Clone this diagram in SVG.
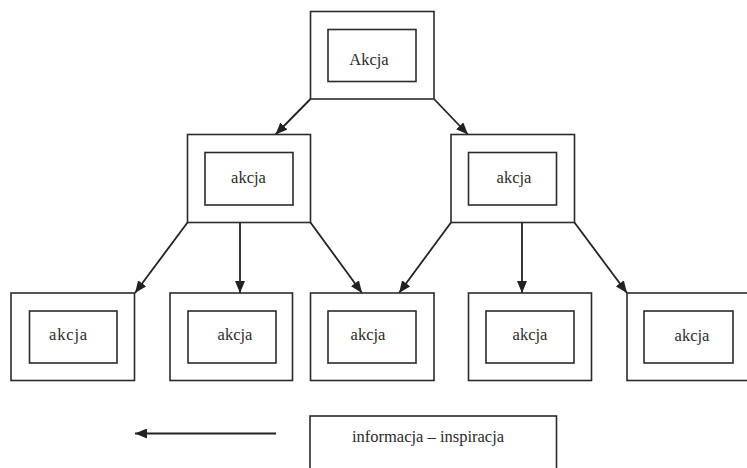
<svg xmlns="http://www.w3.org/2000/svg" width="747" height="468" viewBox="0 0 747 468">
<style>
.box{fill:#fff;stroke:#2b2b2b;stroke-width:1.6}
.lbl{font-family:"Liberation Serif","Times New Roman",serif;font-size:16.5px;fill:#2b2b2b;text-anchor:middle}
.conn{stroke:#222;stroke-width:1.8;fill:none;marker-end:url(#ah)}
</style>
<defs>
<marker id="ah" viewBox="0 0 12 10" refX="12" refY="5" markerWidth="12" markerHeight="10" markerUnits="userSpaceOnUse" orient="auto">
<path d="M0,0 L12,5 L0,10 Z" fill="#222"/>
</marker>
</defs>
<rect width="747" height="468" fill="#fff"/>
<g id="connectors">
<line class="conn" x1="310.5" y1="99" x2="275.5" y2="134.5"/>
<line class="conn" x1="434" y1="99" x2="468" y2="134.5"/>
<line class="conn" x1="187.5" y1="222.5" x2="135" y2="293"/>
<line class="conn" x1="240" y1="222.5" x2="240" y2="293"/>
<line class="conn" x1="310.5" y1="222.5" x2="362" y2="293"/>
<line class="conn" x1="451" y1="222.5" x2="399" y2="293"/>
<line class="conn" x1="522" y1="222.5" x2="522" y2="293"/>
<line class="conn" x1="574.5" y1="222.5" x2="627" y2="293"/>
<line class="conn" x1="276" y1="433.5" x2="135" y2="433.5"/>
</g>
<g id="top">
<rect class="box" x="310.5" y="11.5" width="123.5" height="87.5"/>
<rect class="box" x="328" y="29.5" width="88" height="52"/>
<text class="lbl" x="369" y="65">Akcja</text>
</g>
<g id="mid-left">
<rect class="box" x="187.5" y="134.5" width="123" height="88"/>
<rect class="box" x="205" y="152.5" width="88" height="52.5"/>
<text class="lbl" x="248.5" y="183">akcja</text>
</g>
<g id="mid-right">
<rect class="box" x="451" y="134.5" width="123.5" height="88"/>
<rect class="box" x="468.5" y="152.5" width="88" height="52.5"/>
<text class="lbl" x="514" y="183">akcja</text>
</g>
<g id="bottom-1">
<rect class="box" x="11" y="293" width="123.5" height="87.5"/>
<rect class="box" x="29.5" y="311" width="87.5" height="52"/>
<text class="lbl" x="68.5" y="340" letter-spacing="0.8">akcja</text>
</g>
<g id="bottom-2">
<rect class="box" x="170" y="293" width="122.5" height="87.5"/>
<rect class="box" x="188" y="311" width="88" height="52"/>
<text class="lbl" x="235" y="340">akcja</text>
</g>
<g id="bottom-3">
<rect class="box" x="310.5" y="293" width="123.5" height="87.5"/>
<rect class="box" x="328" y="311" width="88" height="52"/>
<text class="lbl" x="368" y="340">akcja</text>
</g>
<g id="bottom-4">
<rect class="box" x="468.5" y="293" width="123" height="87.5"/>
<rect class="box" x="486" y="311" width="88" height="52"/>
<text class="lbl" x="530" y="340">akcja</text>
</g>
<g id="bottom-5">
<rect class="box" x="627" y="293" width="124" height="87.5"/>
<rect class="box" x="644" y="311" width="89" height="52"/>
<text class="lbl" x="692" y="341">akcja</text>
</g>
<g id="legend">
<rect class="box" x="310" y="416" width="246.5" height="60"/>
<text class="lbl" x="428" y="442">informacja – inspiracja</text>
</g>
</svg>
